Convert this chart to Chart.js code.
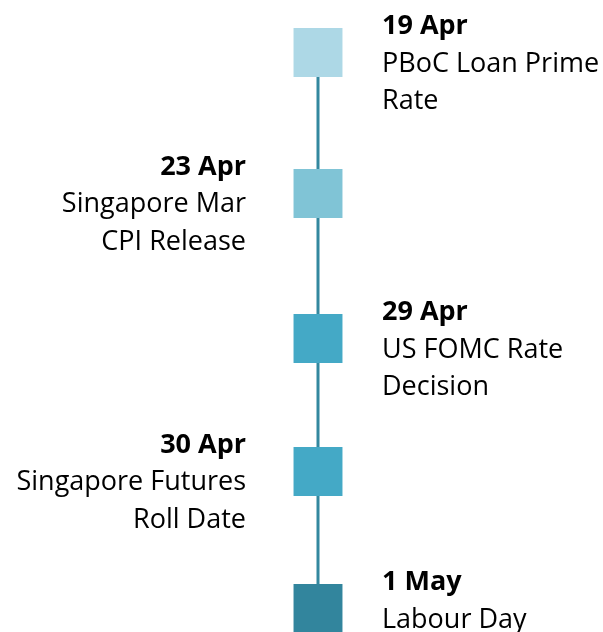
<!DOCTYPE html>
<html>
<head>
<meta charset="utf-8">
<script src="https://cdn.jsdelivr.net/npm/chart.js@4/dist/chart.umd.min.js"></script>
<style>
  body { margin: 0; background: #fff; }
  canvas { display: block; }
</style>
</head>
<body>
<canvas id="timeline" width="603" height="632"></canvas>
<script>
const dates = ['19 Apr', '23 Apr', '29 Apr', '30 Apr', '1 May'];
const events = [
  ['PBoC Loan Prime', 'Rate'],
  ['Singapore Mar', 'CPI Release'],
  ['US FOMC Rate', 'Decision'],
  ['Singapore Futures', 'Roll Date'],
  ['Labour Day']
];
// position of each event along the timeline (slot units)
const slots = [0, 1.014, 2.058, 3.014, 4];
const markerColors = ['#add8e6', '#80c4d6', '#44a9c6', '#44a9c6', '#32859d'];

const points = slots.map(s => ({ x: 0, y: s }));

// draws the date + description next to each marker, alternating sides
const eventLabels = {
  id: 'eventLabels',
  afterDatasetsDraw(chart) {
    const ctx = chart.ctx;
    const meta = chart.getDatasetMeta(1);
    ctx.save();
    ctx.fillStyle = '#000';
    ctx.textBaseline = 'alphabetic';
    meta.data.forEach((pt, i) => {
      const right = i % 2 === 0;
      const tx = right ? pt.x + 64 : pt.x - 72;
      ctx.textAlign = right ? 'left' : 'right';
      let y = pt.y - 18.5;
      ctx.font = 'bold 27px "Open Sans"';
      ctx.fillText(dates[i], tx, y);
      ctx.font = '27px "Open Sans"';
      events[i].forEach(line => {
        y += 37.5;
        ctx.fillText(line, tx, y);
      });
    });
    ctx.restore();
  }
};

new Chart(document.getElementById('timeline'), {
  type: 'scatter',
  data: {
    datasets: [
      {
        data: points,
        showLine: true,
        borderColor: '#33889f',
        borderWidth: 3,
        pointRadius: 0,
        clip: false,
        order: 2
      },
      {
        data: points,
        pointStyle: 'rect',
        pointRadius: 34.6,
        pointHoverRadius: 34.6,
        backgroundColor: markerColors,
        borderWidth: 0,
        clip: false,
        order: 1
      }
    ]
  },
  options: {
    responsive: false,
    animation: false,
    layout: { autoPadding: false, padding: { left: 33, right: 0, top: 52.5, bottom: 23.5 } },
    scales: {
      x: { display: false, min: -1, max: 1 },
      y: { display: false, min: 0, max: 4, reverse: true }
    },
    plugins: {
      legend: { display: false },
      tooltip: { enabled: false }
    }
  },
  plugins: [eventLabels]
});
</script>
</body>
</html>
